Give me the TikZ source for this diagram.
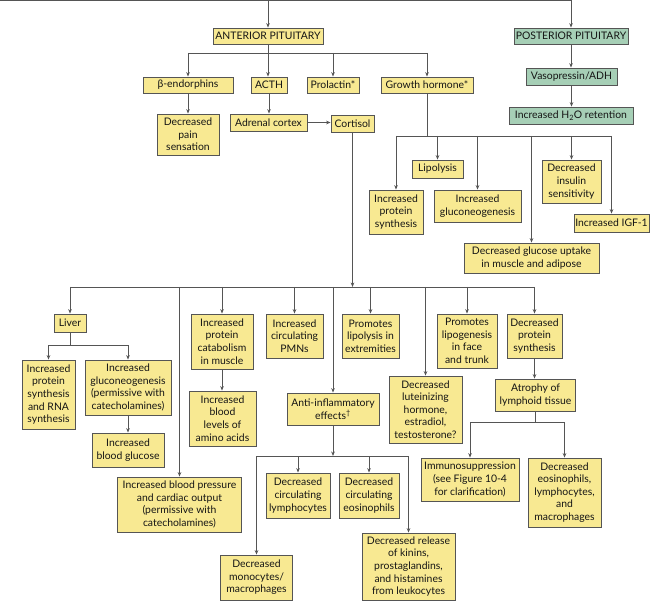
\documentclass[tikz,border=0pt]{standalone}
\usepackage{fontspec}
\setmainfont{Lato}
\usetikzlibrary{arrows.meta}
\definecolor{yel}{HTML}{F8E992}
\definecolor{grn}{HTML}{A6CFB6}
\definecolor{edgec}{HTML}{555555}
\definecolor{ink}{HTML}{151515}
\begin{document}
\begin{tikzpicture}[x=1pt,y=-1pt,
  box/.style={draw=edgec, fill=yel, line width=0.8pt, inner sep=0.3pt, align=center, text=ink,
    font=\fontsize{10.4}{12.6}\selectfont},
  gbox/.style={box, fill=grn},
  wh/.style 2 args={minimum width=#1pt, minimum height=#2pt},
  ln/.style={draw=edgec, line width=0.8pt},
  arr/.style={ln, -{Stealth[length=4.5pt,width=3.6pt]}}]
\useasboundingbox (0,0) rectangle (650,601);
% top
\node[box, wh={110}{16}] (ant) at (268,36) {ANTERIOR PITUITARY};
\node[gbox, wh={114}{16}] (post) at (571,36) {POSTERIOR PITUITARY};
\node[gbox, wh={91}{17}] (vaso) at (571.5,76.5) {Vasopressin/ADH};
\node[gbox, wh={124}{17}] (h2o) at (571,115.5) {Increased H\textsubscript{2}O retention};
\node[box, wh={90}{16}] (bend) at (188,85) {β-endorphins};
\node[box, wh={36}{16}] (acth) at (269,85) {ACTH};
\node[box, wh={52}{16}] (prol) at (333,85) {Prolactin*};
\node[box, wh={92}{16}] (gh) at (427,85) {Growth hormone*};
\node[box, wh={62}{41}] (pain) at (188,134.5) {Decreased\\pain\\sensation};
\node[box, wh={77}{17}] (adr) at (268.5,122.5) {Adrenal cortex};
\node[box, wh={43}{17}] (cort) at (352.5,123.5) {Cortisol};
% growth hormone effects
\node[box, wh={54}{44}] (ips) at (396,212) {Increased\\protein\\synthesis};
\node[box, wh={51}{18}] (lip) at (437.5,169) {Lipolysis};
\node[box, wh={87}{32}] (igl) at (477.5,206) {Increased\\gluconeogenesis};
\node[box, wh={135}{30}] (dgu) at (531.5,258) {Decreased glucose uptake\\in muscle and adipose};
\node[box, wh={59}{43}] (dis) at (571.5,181.5) {Decreased\\insulin\\sensitivity};
\node[box, wh={75}{18}] (igf) at (611.5,223) {Increased IGF-1};
% cortisol effects
\node[box, wh={32}{18}] (liver) at (70,323) {Liver};
\node[box, wh={53}{69}] (ipr) at (48.5,394.5) {Increased\\protein\\synthesis\\and RNA\\synthesis};
\node[box, wh={86}{55}] (iglp) at (128,387.5) {Increased\\gluconeogenesis\\(permissive with\\catecholamines)};
\node[box, wh={72}{34}] (ibg) at (128,450) {Increased\\blood glucose};
\node[box, wh={124}{55}] (ibp) at (179.5,504.5) {Increased blood pressure\\and cardiac output\\(permissive with\\catecholamines)};
\node[box, wh={62}{55}] (ipc) at (222,341.5) {Increased\\protein\\catabolism\\in muscle};
\node[box, wh={67}{55}] (ibl) at (222.5,418.5) {Increased\\blood\\levels of\\amino acids};
\node[box, wh={57}{44}] (pmn) at (294.5,336) {Increased\\circulating\\PMNs};
\node[box, wh={57}{44}] (pli) at (370.5,336) {Promotes\\lipolysis in\\extremities};
\node[box, wh={92}{32}] (anti) at (333,409) {Anti-inflammatory\\effects\textsuperscript{\textdagger}};
\node[box, wh={73}{67}] (dlh) at (425.5,409.5) {Decreased\\luteinizing\\hormone,\\estradiol,\\testosterone?};
\node[box, wh={60}{54}] (plg) at (467,341) {Promotes\\lipogenesis\\in face\\and trunk};
\node[box, wh={55}{44}] (dps) at (534.5,336) {Decreased\\protein\\synthesis};
\node[box, wh={80}{32}] (atr) at (535.5,395) {Atrophy of\\lymphoid tissue};
\node[box, wh={98}{43}] (imm) at (470,479.5) {Immunosuppression\\(see Figure 10-4\\for clarification)};
\node[box, wh={73}{69}] (del) at (564.5,492.5) {Decreased\\eosinophils,\\lymphocytes,\\and\\macrophages};
\node[box, wh={64}{45}] (dcl) at (298,495.5) {Decreased\\circulating\\lymphocytes};
\node[box, wh={60}{45}] (dce) at (369,495.5) {Decreased\\circulating\\eosinophils};
\node[box, wh={72}{45}] (dmm) at (256.5,577.5) {Decreased\\monocytes/\\macrophages};
\node[box, wh={93}{67}] (drk) at (408.5,566.5) {Decreased release\\of kinins,\\prostaglandins,\\and histamines\\from leukocytes};
% connectors: top
\coordinate (t0) at (0,0.8);
\draw[arr] (t0) -| (post.north);
\draw[arr] (ant.north |- t0) -- (ant.north);
\draw[arr] (post.south) -- (post.south |- vaso.north);
\draw[arr] (vaso.south) -- (vaso.south |- h2o.north);
% anterior branch
\coordinate (yA) at (0,53);
\draw[ln] (bend.north |- yA) -- (gh.north |- yA);
\draw[arr] (ant.south) -- (ant.south |- acth.north);
\draw[arr] (bend.north |- yA) -- (bend.north);
\draw[arr] (prol.north |- yA) -- (prol.north);
\draw[arr] (gh.north |- yA) -- (gh.north);
\draw[arr] (bend.south) -- (pain.north);
\draw[arr] (acth.south) -- (acth.south |- adr.north);
\draw[arr] (adr.east) -- (cort.west |- adr.east);
% growth hormone branch
\coordinate (yG) at (0,136);
\draw[ln] (gh.south) -- (gh.south |- yG);
\draw[ln] (ips.north |- yG) -- (igf.north |- yG);
\draw[arr] (ips.north |- yG) -- (ips.north);
\draw[arr] (lip.north |- yG) -- (lip.north);
\draw[arr] (igl.north |- yG) -- (igl.north);
\draw[arr] (dgu.north |- yG) -- (dgu.north);
\draw[arr] (dis.north |- yG) -- (dis.north);
\draw[arr] (igf.north |- yG) -- (igf.north);
% cortisol branch
\coordinate (yC) at (0,287);
\draw[ln] (liver.north |- yC) -- (dps.north |- yC);
\draw[arr] (cort.south) -- (cort.south |- yC);
\draw[arr] (liver.north |- yC) -- (liver.north);
\draw[arr] (ibp.north |- yC) -- (ibp.north);
\draw[arr] (ipc.north |- yC) -- (ipc.north);
\draw[arr] (pmn.north |- yC) -- (pmn.north);
\draw[arr] (anti.north |- yC) -- (anti.north);
\draw[arr] (pli.north |- yC) -- (pli.north);
\draw[arr] (dlh.north |- yC) -- (dlh.north);
\draw[arr] (plg.north |- yC) -- (plg.north);
\draw[arr] (dps.north |- yC) -- (dps.north);
% liver branch
\coordinate (yL) at (0,345);
\draw[ln] (liver.south) -- (liver.south |- yL);
\draw[ln] (ipr.north |- yL) -- (iglp.north |- yL);
\draw[arr] (ipr.north |- yL) -- (ipr.north);
\draw[arr] (iglp.north |- yL) -- (iglp.north);
\draw[arr] (iglp.south) -- (ibg.north);
\draw[arr] (ipc.south) -- (ipc.south |- ibl.north);
% anti-inflammatory branch
\coordinate (yF) at (0,456);
\draw[arr] (anti.south) -- (anti.south |- yF);
\draw[ln] (dmm.north |- yF) -- (drk.north |- yF);
\draw[arr] (dmm.north |- yF) -- (dmm.north);
\draw[arr] (dcl.north |- yF) -- (dcl.north);
\draw[arr] (dce.north |- yF) -- (dce.north);
\draw[arr] (drk.north |- yF) -- (drk.north);
% atrophy branch
\draw[arr] (dps.south) -- (dps.south |- atr.north);
\coordinate (yT) at (0,422);
\draw[ln] (atr.south) -- (atr.south |- yT);
\draw[ln] (imm.north |- yT) -- (del.north |- yT);
\draw[arr] (imm.north |- yT) -- (imm.north);
\draw[arr] (del.north |- yT) -- (del.north);
\end{tikzpicture}
\end{document}
